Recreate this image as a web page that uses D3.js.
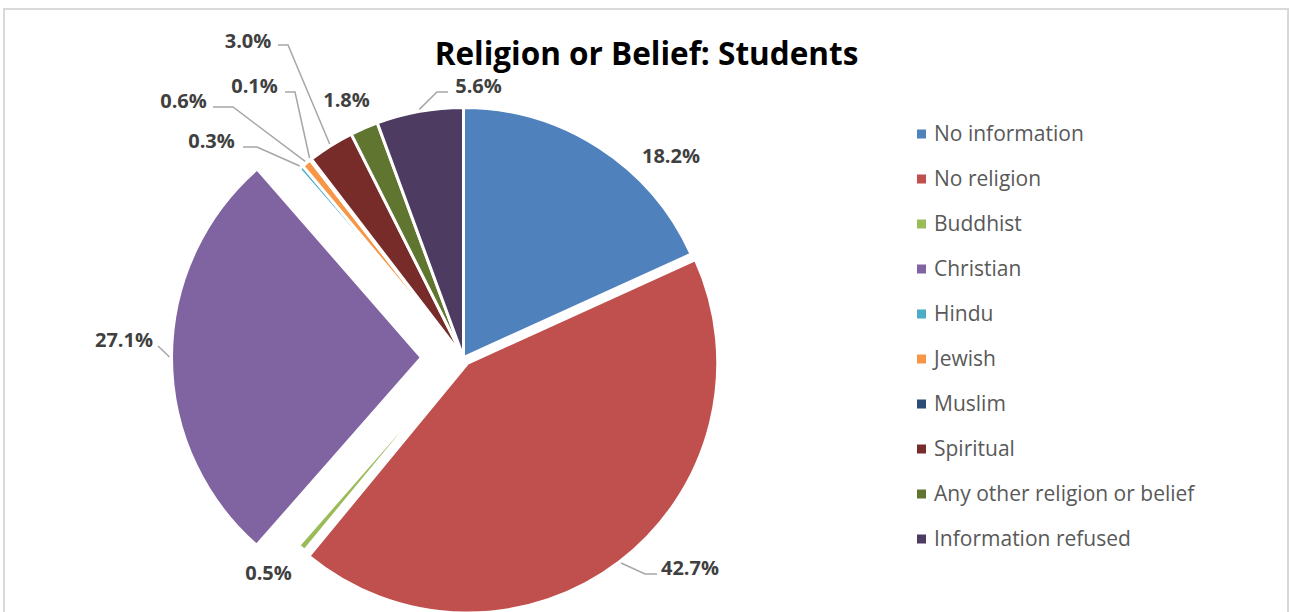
<!DOCTYPE html>
<html>
<head>
<meta charset="utf-8">
<script src="https://cdn.jsdelivr.net/npm/d3@7"></script>
<style>
  html, body { margin: 0; padding: 0; background: #fff; }
  svg { display: block; }
</style>
</head>
<body>
<svg id="chart" width="1290" height="612"></svg>
<script>
// Student population by religion or belief (percent of total)
const categories = [
  "No information", "No religion", "Buddhist", "Christian", "Hindu",
  "Jewish", "Muslim", "Spiritual", "Any other religion or belief", "Information refused"
];
const values = [18.2, 42.7, 0.5, 27.1, 0.3, 0.6, 0.1, 3.0, 1.8, 5.6];
const colors = [
  "#4F81BD", "#C0504D", "#9BBB59", "#8064A2", "#4BACC6",
  "#F79646", "#2C4D75", "#772C2A", "#5F7530", "#4D3B62"
];
// How far each slice is pulled out from the centre, in pixels
const explode = [0, 7, 0, 42, 0, 0, 0, 0, 0, 0];

// Placement of the percentage labels: text centre / baseline and optional leader path
const labelLayout = [
  { x: 671,   y: 163 },
  { x: 690,   y: 575, leader: [[645, 574], [657, 574]] },
  { x: 268.5, y: 580 },
  { x: 124,   y: 347, leader: [[158, 346]] },
  { x: 211.5, y: 148, leader: [[257, 147], [243, 147]] },
  { x: 183.5, y: 108, leader: [[233, 107], [213, 107]] },
  { x: 254.5, y: 93,  leader: [[295, 92], [285, 92]] },
  { x: 248,   y: 48,  leader: [[288, 45], [278, 45]] },
  { x: 346.5, y: 107 },
  { x: 478.5, y: 93,  leader: [[437, 92], [448, 92]] }
];

const svg = d3.select("#chart");

// chart frame
svg.append("rect")
  .attr("x", 4).attr("y", 9)
  .attr("width", 1284).attr("height", 640)
  .attr("fill", "#fff")
  .attr("stroke", "#d9d9d9")
  .attr("stroke-width", 2);

// title
svg.append("text")
  .attr("x", 646.5).attr("y", 65)
  .attr("text-anchor", "middle")
  .attr("font-family", "'Open Sans', sans-serif")
  .attr("font-weight", 700)
  .attr("font-size", 31.5)
  .attr("fill", "#000")
  .text("Religion or Belief: Students");

const cx = 463.5, cy = 357.5, R = 250;

const data = categories.map((c, i) => ({ name: c, value: values[i], color: colors[i], explode: explode[i], label: labelLayout[i] }));

const pie = d3.pie().sort(null).value(d => d.value).startAngle(0).endAngle(2 * Math.PI);
const arcs = pie(data);
const arc = d3.arc().innerRadius(0).outerRadius(R);

const g = svg.append("g").attr("transform", `translate(${cx},${cy})`);

function offset(d) {
  const mid = (d.startAngle + d.endAngle) / 2;
  return [Math.sin(mid) * d.data.explode, -Math.cos(mid) * d.data.explode];
}

g.selectAll("path.slice")
  .data(arcs)
  .join("path")
  .attr("class", "slice")
  .attr("d", arc)
  .attr("transform", d => { const o = offset(d); return `translate(${o[0]},${o[1]})`; })
  .attr("fill", d => d.data.color)
  .attr("stroke", "#fff")
  .attr("stroke-width", 3)
  .attr("stroke-linejoin", "miter");

// leader lines from the slice edge to the label
const line = d3.line();
arcs.forEach(d => {
  const lay = d.data.label;
  if (!lay.leader) return;
  const mid = (d.startAngle + d.endAngle) / 2;
  const o = offset(d);
  const start = [cx + o[0] + Math.sin(mid) * (R + 2), cy + o[1] - Math.cos(mid) * (R + 2)];
  svg.append("path")
    .attr("d", line([start, ...lay.leader]))
    .attr("fill", "none")
    .attr("stroke", "#a6a6a6")
    .attr("stroke-width", 1.5);
});

// percentage labels
svg.selectAll("text.pct")
  .data(arcs)
  .join("text")
  .attr("class", "pct")
  .attr("x", d => d.data.label.x)
  .attr("y", d => d.data.label.y)
  .attr("text-anchor", "middle")
  .attr("font-family", "'Open Sans', sans-serif")
  .attr("font-weight", 700)
  .attr("font-size", 20)
  .attr("fill", "#404040")
  .text(d => d.data.value.toFixed(1) + "%");

// legend
const legend = svg.append("g").attr("transform", "translate(917,0)");
const rowY = d3.scalePoint().domain(categories).range([134, 134 + 45 * 9]);
const rows = legend.selectAll("g.row")
  .data(data)
  .join("g")
  .attr("class", "row")
  .attr("transform", d => `translate(0,${rowY(d.name)})`);
rows.append("rect")
  .attr("x", 0).attr("y", -4.5)
  .attr("width", 9).attr("height", 9)
  .attr("fill", d => d.color);
rows.append("text")
  .attr("x", 17).attr("y", 7.3)
  .attr("font-family", "'Open Sans', sans-serif")
  .attr("font-size", 21)
  .attr("fill", "#595959")
  .text(d => d.name);
</script>
</body>
</html>
